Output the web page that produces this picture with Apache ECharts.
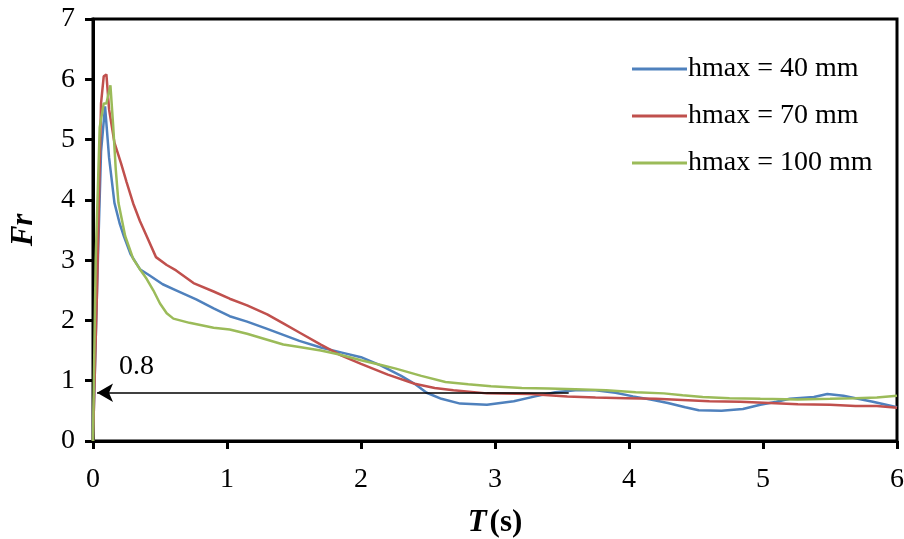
<!DOCTYPE html>
<html>
<head>
<meta charset="utf-8">
<script src="https://cdn.jsdelivr.net/npm/echarts@6/dist/echarts.min.js"></script>
<style>
  html, body { margin: 0; padding: 0; background: #fff; }
  #chart { width: 904px; height: 539px; }
</style>
</head>
<body>
<div id="chart"></div>
<script>
// series names
const seriesNames = ['hmax = 40 mm', 'hmax = 70 mm', 'hmax = 100 mm'];

// [T (s), Fr]
const h40 = [
  [0, 0], [0.03, 2.5], [0.06, 4.8], [0.09, 5.55], [0.12, 4.7], [0.16, 3.95], [0.2, 3.6],
  [0.23, 3.4], [0.28, 3.1], [0.35, 2.85], [0.42, 2.75], [0.52, 2.6], [0.62, 2.5],
  [0.77, 2.35], [0.9, 2.2], [1.02, 2.07], [1.15, 1.98], [1.3, 1.86], [1.42, 1.76],
  [1.54, 1.66], [1.7, 1.55], [1.85, 1.47], [2.0, 1.39], [2.15, 1.25], [2.3, 1.08],
  [2.4, 0.95], [2.49, 0.8], [2.6, 0.7], [2.74, 0.62], [2.94, 0.6], [3.14, 0.66],
  [3.3, 0.74], [3.45, 0.81], [3.6, 0.84], [3.75, 0.84], [3.9, 0.8], [4.03, 0.74],
  [4.18, 0.68], [4.29, 0.63], [4.42, 0.56], [4.52, 0.51], [4.69, 0.5], [4.85, 0.53],
  [4.98, 0.6], [5.1, 0.65], [5.2, 0.7], [5.38, 0.73], [5.48, 0.78], [5.6, 0.75],
  [5.69, 0.71], [5.82, 0.65], [5.96, 0.58], [6, 0.56]
];
const h70 = [
  [0, 0], [0.03, 2.5], [0.06, 5.6], [0.08, 6.05], [0.1, 6.08], [0.12, 5.5], [0.16, 4.95],
  [0.21, 4.6], [0.25, 4.3], [0.3, 3.94], [0.35, 3.65], [0.4, 3.4], [0.47, 3.05],
  [0.55, 2.92], [0.62, 2.83], [0.75, 2.62], [0.9, 2.48], [1.02, 2.36], [1.15, 2.25],
  [1.3, 2.1], [1.42, 1.95], [1.54, 1.8], [1.7, 1.6], [1.85, 1.42], [2.0, 1.28],
  [2.2, 1.1], [2.4, 0.95], [2.55, 0.88], [2.69, 0.84], [2.94, 0.79], [3.26, 0.78],
  [3.54, 0.74], [3.75, 0.72], [3.98, 0.71], [4.2, 0.7], [4.4, 0.68], [4.6, 0.66],
  [4.83, 0.65], [5.05, 0.63], [5.26, 0.61], [5.5, 0.6], [5.69, 0.58], [5.85, 0.58],
  [6, 0.55]
];
const h100 = [
  [0, 0], [0.02, 3.0], [0.05, 5.2], [0.08, 5.6], [0.1, 5.6], [0.13, 5.9], [0.15, 5.25],
  [0.17, 4.5], [0.19, 3.95], [0.24, 3.4], [0.3, 3.02], [0.35, 2.85], [0.4, 2.69],
  [0.45, 2.5], [0.5, 2.28], [0.55, 2.12], [0.6, 2.03], [0.72, 1.96], [0.9, 1.88],
  [1.02, 1.85], [1.15, 1.78], [1.3, 1.68], [1.42, 1.6], [1.54, 1.56], [1.7, 1.5],
  [1.83, 1.44], [2.0, 1.34], [2.15, 1.26], [2.26, 1.2], [2.45, 1.08], [2.63, 0.98],
  [2.8, 0.94], [2.97, 0.91], [3.2, 0.88], [3.4, 0.87], [3.6, 0.86], [3.83, 0.84],
  [4.05, 0.81], [4.26, 0.79], [4.4, 0.76], [4.55, 0.73], [4.75, 0.71], [4.98, 0.7],
  [5.26, 0.69], [5.5, 0.7], [5.69, 0.71], [5.85, 0.72], [6, 0.75]
];

// annotation arrow: from T=3.55 back to the Fr axis at 0.8
const arrowLevel = 0.8;
const arrowFrom = 3.55;
const arrowTo = 0.03;

const colors = ['#4f81bd', '#c0504d', '#9bbb59'];
const serif = '"Liberation Serif", "Times New Roman", serif';

const chart = echarts.init(document.getElementById('chart'));

function lineSeries(name, data, color, extra) {
  return Object.assign({
    name: name,
    type: 'line',
    data: data,
    showSymbol: false,
    smooth: false,
    lineStyle: { color: color, width: 2.5 },
    itemStyle: { color: color },
    animation: false,
  }, extra || {});
}

chart.setOption({
  textStyle: { fontFamily: serif },
  grid: {
    left: 93,
    right: 7,
    top: 19,
    bottom: 98,
    outerBoundsMode: 'none',
    containLabel: false,
    show: true,
    borderColor: '#000',
    borderWidth: 3,
  },
  legend: {
    orient: 'vertical',
    left: 627,
    top: 50,
    itemGap: 19,
    itemWidth: 55,
    itemHeight: 3,
    icon: 'rect',
    textStyle: { fontFamily: serif, fontSize: 28, color: '#000', padding: [0, 0, 0, -4] },
    data: seriesNames,
  },
  xAxis: {
    type: 'value',
    min: 0,
    max: 6,
    interval: 1,
    name: '{b|T} {c|(s)}',
    nameLocation: 'middle',
    nameGap: 66,
    nameTextStyle: {
      rich: {
        b: { fontFamily: serif, fontSize: 31, fontWeight: 'bold', fontStyle: 'italic', color: '#000' },
        c: { fontFamily: serif, fontSize: 31, fontWeight: 'bold', color: '#000' },
      },
    },
    axisLine: { lineStyle: { color: '#000', width: 3 } },
    axisTick: { show: true, inside: false, length: 8, lineStyle: { color: '#000', width: 3 } },
    axisLabel: { fontFamily: serif, fontSize: 28, color: '#000', margin: 25 },
    splitLine: { show: false },
  },
  yAxis: {
    type: 'value',
    min: 0,
    max: 7,
    interval: 1,
    name: 'Fr',
    nameLocation: 'middle',
    nameGap: 54,
    nameRotate: 90,
    nameTextStyle: { fontFamily: serif, fontSize: 31, fontWeight: 'bold', fontStyle: 'italic', color: '#000' },
    axisLine: { lineStyle: { color: '#000', width: 3 } },
    axisTick: { show: true, inside: false, length: 8, lineStyle: { color: '#000', width: 3 } },
    axisLabel: { fontFamily: serif, fontSize: 28, color: '#000', margin: 18 },
    splitLine: { show: false },
  },
  series: [
    lineSeries(seriesNames[0], h40, colors[0], {
      markLine: {
        silent: true,
        animation: false,
        symbol: ['arrow', 'none'],
        symbolSize: [14, 16],
        lineStyle: { color: '#000', width: 1.5, type: 'solid' },
        label: {
          show: true,
          position: 'insideStartTop',
          formatter: String(arrowLevel),
          fontFamily: serif,
          fontSize: 28,
          color: '#000',
          distance: [22, 12],
        },
        emphasis: { disabled: true },
        data: [[
          { coord: [arrowTo, arrowLevel] },
          { coord: [arrowFrom, arrowLevel] },
        ]],
      },
    }),
    lineSeries(seriesNames[1], h70, colors[1]),
    lineSeries(seriesNames[2], h100, colors[2]),
  ],
});
</script>
</body>
</html>
